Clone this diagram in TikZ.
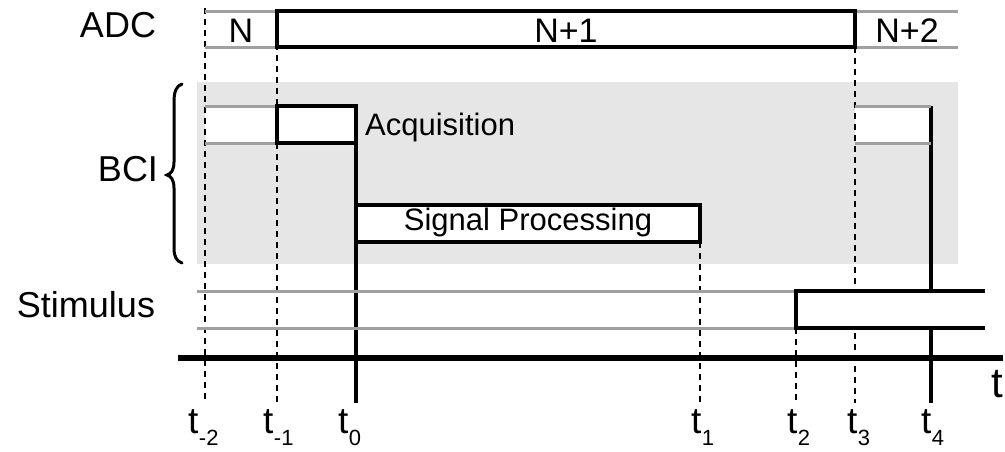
\documentclass[tikz,border=0pt]{standalone}
\usepackage{fontspec}
\setmainfont{Liberation Sans}
\definecolor{bandgray}{RGB}{230,230,230}
\definecolor{linegray}{RGB}{160,160,160}
\newcommand{\subf}{\fontsize{22}{22}\selectfont}
\newcommand{\tsub}[1]{t\kern0.5pt\raisebox{-12pt}{\subf #1}}

\begin{document}
\begin{tikzpicture}[x=1pt,y=-1pt,
  lab/.style={inner sep=0pt,font=\fontsize{36}{40}\selectfont},
  tlab/.style={inner sep=0pt,font=\fontsize{37}{40}\selectfont,anchor=base west},
  seglab/.style={inner sep=0pt,font=\fontsize{34}{38}\selectfont},
  boxlab/.style={inner sep=0pt,font=\fontsize{31}{34}\selectfont},
  blk/.style={draw=black,line width=3.4pt},
  gry/.style={draw=linegray,line width=3pt},
  tick/.style={draw=black,line width=1.6pt,dash pattern=on 6pt off 5pt},
  mark line/.style={draw=black,line width=3.4pt}]
\useasboundingbox (0,0) rectangle (1005,451);

% time instants
\coordinate (tm2) at (205,0);
\coordinate (tm1) at (277,0);
\coordinate (t0) at (356,0);
\coordinate (t1) at (700,0);
\coordinate (t2) at (796,0);
\coordinate (t3) at (855,0);
\coordinate (t4) at (931,0);

% BCI band
\fill[bandgray] (197,82) rectangle (958,264);
\fill[white] (205,106) rectangle (277,143);
\fill[white] (855,106) rectangle (931,143);

% dashed instants
\draw[tick] (tm2 |- 0,8) -- (tm2 |- 0,403);
\draw[tick] (tm1 |- 0,11) -- (tm1 |- 0,403);
\draw[tick] (t1 |- 0,242) -- (t1 |- 0,403);
\draw[tick] (t2 |- 0,328) -- (t2 |- 0,403);
\draw[tick] (t3 |- 0,47) -- (t3 |- 0,403);

% solid instants
\draw[mark line] (t0 |- 0,106) -- (t0 |- 0,403);
\draw[mark line] (t4 |- 0,106) -- (t4 |- 0,403);

% ADC row
\draw[gry] (205,11) -- (277,11) (205,47) -- (277,47);
\draw[gry] (855,11) -- (958,11) (855,47) -- (958,47);
\draw[blk] (277,11) rectangle (855,47);
\node[seglab] (segN) at (241,31) {N};
\node[seglab] (segN1) at (566,31) {N+1};
\node[seglab] (segN2) at (907,31) {N+2};

% BCI row
\draw[gry] (205,106) -- (277,106) (205,143) -- (277,143);
\draw[gry] (855,106) -- (931,106) (855,143) -- (931,143);
\draw[blk,fill=white] (277,106) rectangle (356,143);
\draw[blk,fill=white] (356,205) rectangle (700,242);
\node[boxlab,anchor=base west] (acq) at (365,135) {Acquisition};
\node[boxlab,anchor=base] (sp) at (528,230) {Signal Processing};

% stimulus row
\draw[gry] (197,291) -- (796,291) (197,328) -- (796,328);
\fill[white] (796,291) rectangle (985,328);
\draw[blk] (985,291) -- (796,291) -- (796,328) -- (985,328);

% time axis
\draw[line width=6.5pt] (178,358) -- (1003,358);
\node[inner sep=0pt,font=\fontsize{42}{44}\selectfont,anchor=base west] (taxis) at (991,397) {t};

% row labels
\node[lab] (adc) at (118,25) {ADC};
\node[lab] (bci) at (128,169) {BCI};
\node[lab] (stim) at (86,305) {Stimulus};
% curly brace grouping the BCI rows
\draw[line width=3pt,line cap=round]
  (182,84) .. controls (176,86) and (174,92) .. (174,102) -- (174,162)
  .. controls (174,170) and (171,174) .. (167,175)
  .. controls (171,176) and (174,180) .. (174,188) -- (174,248)
  .. controls (174,256) and (176,261) .. (182,263);

% instant labels
\node[tlab] (ltm2) at (188,433) {\tsub{-2}};
\node[tlab] (ltm1) at (263,433) {\tsub{-1}};
\node[tlab] (lt0) at (338,433) {\tsub{0}};
\node[tlab] (lt1) at (691,433) {\tsub{1}};
\node[tlab] (lt2) at (787,433) {\tsub{2}};
\node[tlab] (lt3) at (847,433) {\tsub{3}};
\node[tlab] (lt4) at (921,433) {\tsub{4}};
\end{tikzpicture}
\end{document}
